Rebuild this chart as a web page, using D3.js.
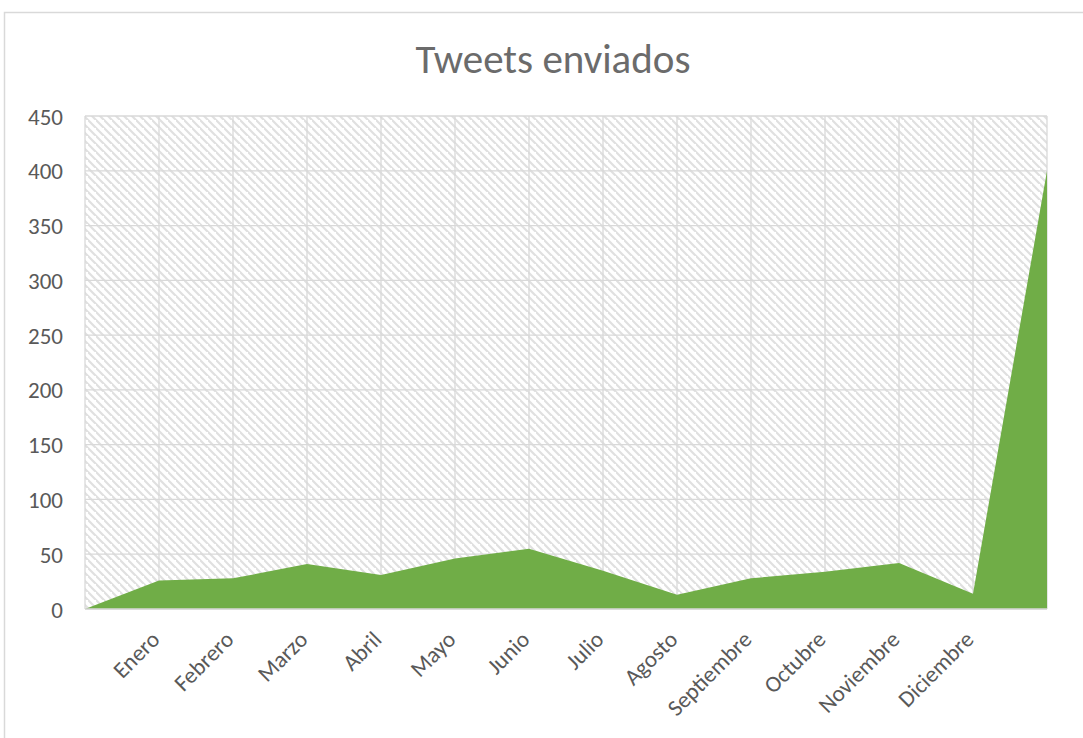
<!DOCTYPE html>
<html>
<head>
<meta charset="utf-8">
<script src="https://cdn.jsdelivr.net/npm/d3@7/dist/d3.min.js"></script>
<style>
  html, body { margin: 0; padding: 0; background: #fff; overflow: hidden; }
  svg { display: block; }
</style>
</head>
<body>
<svg id="chart" width="1083" height="738"></svg>
<script>
// Monthly tweet counts (first and last categories are unlabeled end points)
const categories = ["", "Enero", "Febrero", "Marzo", "Abril", "Mayo", "Junio", "Julio",
  "Agosto", "Septiembre", "Octubre", "Noviembre", "Diciembre", ""];
const tweets = [0, 26, 28, 41, 31, 46, 55, 35, 13, 28, 34, 42, 14, 400];
const yTicks = [0, 50, 100, 150, 200, 250, 300, 350, 400, 450];
const chartTitle = "Tweets enviados";

const W = 1083, H = 738;
const plot = { left: 85, right: 1047, top: 116, bottom: 609 };
const FONT = "Carlito, Calibri, Lato, 'DejaVu Sans', sans-serif";
const TEXT = "#595959";
const GRID = "#d9d9d9";

const svg = d3.select("#chart");

// Diagonal hatch for the plot area background
const defs = svg.append("defs");
const pat = defs.append("pattern")
  .attr("id", "hatch")
  .attr("patternUnits", "userSpaceOnUse")
  .attr("width", 8).attr("height", 8);
pat.append("rect").attr("width", 8).attr("height", 8).attr("fill", "#fff");
pat.append("path")
  .attr("d", "M-2,-2 L10,10 M-6,2 L2,10 M6,-6 L14,2")
  .attr("stroke", "#e0e0e0")
  .attr("stroke-width", 2.2);

// Chart area border
svg.append("rect")
  .attr("x", 4.5).attr("y", 12.5)
  .attr("width", W + 20).attr("height", H + 20)
  .attr("fill", "#fff")
  .attr("stroke", GRID).attr("stroke-width", 1.5);

const x = d3.scalePoint()
  .domain(d3.range(categories.length))
  .range([plot.left, plot.right]);

const y = d3.scaleLinear()
  .domain([0, 450])
  .range([plot.bottom, plot.top]);

// Plot area with hatch
svg.append("rect")
  .attr("x", plot.left).attr("y", plot.top)
  .attr("width", plot.right - plot.left)
  .attr("height", plot.bottom - plot.top)
  .attr("fill", "url(#hatch)");

// Gridlines
const grid = svg.append("g").attr("stroke", GRID).attr("stroke-width", 1.3);
grid.selectAll("line.h").data(yTicks).join("line")
  .attr("class", "h")
  .attr("x1", plot.left).attr("x2", plot.right)
  .attr("y1", d => y(d)).attr("y2", d => y(d));
grid.selectAll("line.v").data(x.domain()).join("line")
  .attr("class", "v")
  .attr("x1", d => x(d)).attr("x2", d => x(d))
  .attr("y1", plot.top).attr("y2", plot.bottom);

// Area series
const area = d3.area()
  .x((d, i) => x(i))
  .y0(y(0))
  .y1(d => y(d));

svg.append("path")
  .datum(tweets)
  .attr("d", area)
  .attr("fill", "#70ad47");

// Category axis line
svg.append("line")
  .attr("x1", plot.left).attr("x2", plot.right)
  .attr("y1", y(0)).attr("y2", y(0))
  .attr("stroke", GRID).attr("stroke-width", 1.5);

// Value axis labels
const yAxis = d3.axisLeft(y).tickValues(yTicks).tickSize(0).tickPadding(0);
const yG = svg.append("g")
  .attr("transform", `translate(63,0)`)
  .call(yAxis);
yG.select(".domain").remove();
yG.selectAll("text")
  .attr("fill", TEXT)
  .style("font-family", FONT)
  .style("font-size", "23px")
  .attr("dy", "0.35em");

// Category labels, rotated
const xAxis = d3.axisBottom(x).tickFormat(i => categories[i]).tickSize(0).tickPadding(0);
const xG = svg.append("g")
  .call(xAxis);
xG.select(".domain").remove();
xG.selectAll(".tick").attr("transform", d => `translate(${x(d) + 2},641)`);
xG.selectAll("text")
  .attr("fill", TEXT)
  .style("font-family", FONT)
  .style("font-size", "23px")
  .attr("x", 0).attr("y", 0).attr("dy", 0)
  .attr("text-anchor", "end")
  .attr("transform", "rotate(-45)");

// Title
svg.append("text")
  .attr("x", 553).attr("y", 73)
  .attr("text-anchor", "middle")
  .attr("fill", "#6b6b6b")
  .style("font-family", FONT)
  .style("font-weight", 300)
  .style("font-size", "41px")
  .text(chartTitle);
</script>
</body>
</html>
